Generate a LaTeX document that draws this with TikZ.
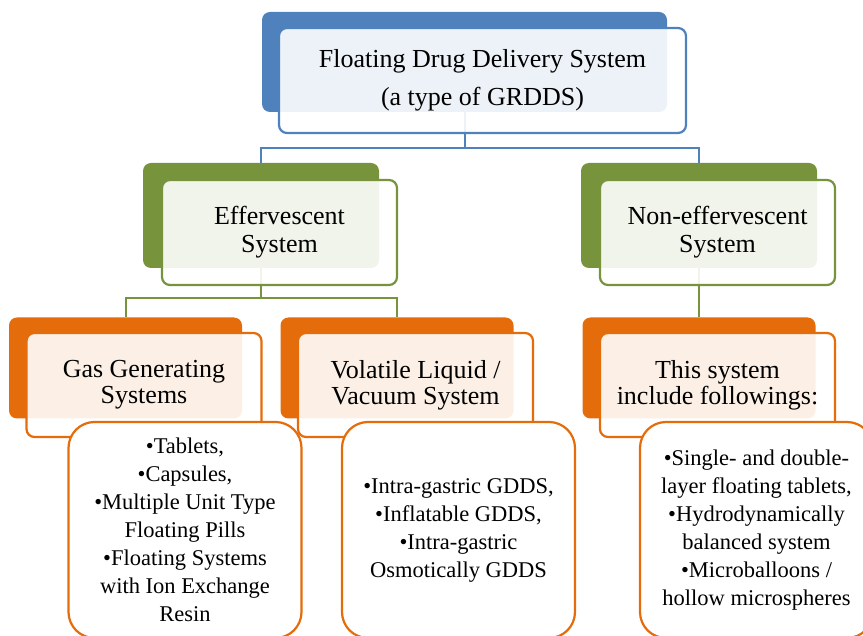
\documentclass[tikz,border=0pt]{standalone}
\usepackage{fontspec}
\setmainfont{Liberation Serif}
\usetikzlibrary{positioning,calc}
\pgfdeclarelayer{background}
\pgfsetlayers{background,main}
\definecolor{fddsblue}{HTML}{4F81BD}
\definecolor{effgreen}{HTML}{77933C}
\definecolor{subgorange}{HTML}{E46C0A}
\tikzstyle{backplate}=[rectangle, rounded corners=8pt, inner sep=0pt, minimum width=233pt, minimum height=101pt]
\tikzstyle{frontplate}=[rectangle, rounded corners=8pt, line width=2.2pt, fill=white, fill opacity=0.9, text opacity=1, text centered, align=center, inner sep=0pt, minimum width=235pt, minimum height=104pt, font=\fontsize{26}{26}\selectfont]
\tikzstyle{listbox}=[rectangle, rounded corners=26pt, draw=subgorange, line width=2.2pt, fill=white, text centered, align=center, minimum width=233pt, minimum height=216pt, font=\fontsize{22.5}{28}\selectfont]
\tikzstyle{mylink}=[line width=2pt]

\begin{document}
\begin{tikzpicture}[x=1pt, y=-1pt]
        \useasboundingbox (0,0) rectangle (863,636);

        % Root
        \node (fdds_back) [backplate, fill=fddsblue, minimum width=405pt, minimum height=100pt] at (464.5,62) {};
        \node (fdds) [frontplate, draw=fddsblue, right of=fdds_back, node distance=18pt, yshift=-18.5pt, minimum width=407pt, minimum height=105pt, font=\fontsize{26}{38}\selectfont] {Floating Drug Delivery System\\(a type of GRDDS)};

        % Effervescent / non-effervescent
        \node (eff_back) [backplate, fill=effgreen, minimum width=236pt, minimum height=105pt] at (261,215.5) {};
        \node (eff) [frontplate, draw=effgreen, right of=eff_back, node distance=18.5pt, yshift=-17pt, minimum height=105pt, font=\fontsize{26}{28}\selectfont] {Effervescent\\System};
        \node (noneff_back) [backplate, fill=effgreen, right of=eff_back, node distance=438pt, minimum width=236pt, minimum height=105pt] {};
        \node (noneff) [frontplate, draw=effgreen, right of=noneff_back, node distance=18.5pt, yshift=-17pt, minimum height=105pt, font=\fontsize{26}{28}\selectfont] {Non-effervescent\\System};

        % Sub-systems
        \node (gas_back) [backplate, fill=subgorange] at (125.5,368) {};
        \node (gas) [frontplate, draw=subgorange, right of=gas_back, node distance=18.5pt, yshift=-17pt] {Gas Generating\\Systems};
        \node (vol_back) [backplate, fill=subgorange, right of=gas_back, node distance=271.5pt] {};
        \node (vol) [frontplate, draw=subgorange, right of=vol_back, node distance=18.5pt, yshift=-17pt] {Volatile Liquid /\\Vacuum System};
        \node (nonlist_back) [backplate, fill=subgorange, below of=noneff_back, node distance=152.5pt] {};
        \node (nonlist) [frontplate, draw=subgorange, right of=nonlist_back, node distance=18.5pt, yshift=-17pt] {This system\\include followings:};

        % Examples
        \node (gas_list) [listbox] at (185,530) {\textbullet Tablets,\\\textbullet Capsules,\\\textbullet Multiple Unit Type\\Floating Pills\\\textbullet Floating Systems\\with Ion Exchange\\Resin};
        \node (vol_list) [listbox] at (458.5,530) {\textbullet Intra-gastric GDDS,\\\textbullet Inflatable GDDS,\\\textbullet Intra-gastric\\Osmotically GDDS};
        \node (nonlist_list) [listbox] at (756.5,530) {\textbullet Single- and double-\\layer floating tablets,\\\textbullet Hydrodynamically\\balanced system\\\textbullet Microballoons /\\hollow microspheres};

        \begin{pgfonlayer}{background}
        \draw[mylink, fddsblue] (fdds_back.south) |- ($(eff_back.north)-(0,15)$) -- (eff_back.north);
        \draw[mylink, fddsblue] (fdds_back.south) |- ($(noneff_back.north)-(0,15)$) -- (noneff_back.north);
        \draw[mylink, effgreen] (eff_back.south) |- ($(gas_back.north)-(0,19)$) -- (gas_back.north);
        \draw[mylink, effgreen] (eff_back.south) |- ($(vol_back.north)-(0,19)$) -- (vol_back.north);
        \draw[mylink, effgreen] (noneff_back.south) -- (nonlist_back.north);
        \end{pgfonlayer}

\end{tikzpicture}
\end{document}
